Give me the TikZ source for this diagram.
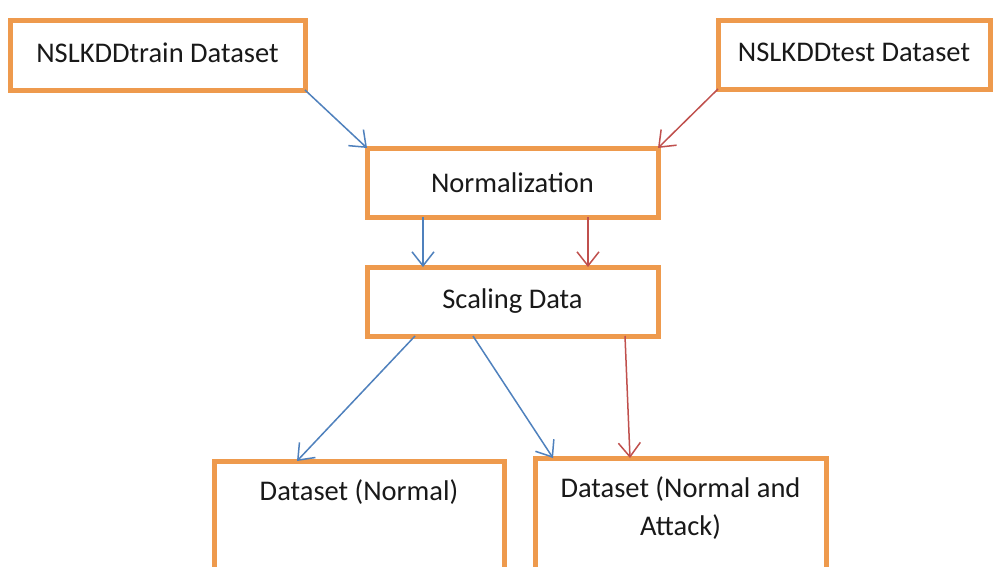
\documentclass[tikz,border=0pt]{standalone}
\usepackage{fontspec}
\setmainfont{Carlito}
\usetikzlibrary{arrows.meta}
\definecolor{boxorange}{HTML}{EE9A4D}
\definecolor{arrblue}{HTML}{4F81BD}
\definecolor{arrred}{HTML}{C0504D}
\begin{document}
\begin{tikzpicture}[x=1pt,y=-1pt,
  box/.style={draw=boxorange,line width=5pt,fill=white,inner sep=0pt,outer sep=0pt,
    font=\fontsize{28.5}{34}\selectfont,text=black!90},
  lbl/.style={inner sep=0pt,font=\fontsize{28.5}{38}\selectfont,text=black!90,align=center},
  bluearr/.style={draw=arrblue,line width=1.5pt,-{Straight Barb[length=14pt,width=22pt,line width=1.5pt]}},
  redarr/.style={draw=arrred,line width=1.5pt,-{Straight Barb[length=14pt,width=22pt,line width=1.5pt]}}]
\useasboundingbox (0,0) rectangle (998,566);
\clip (0,0) rectangle (998,566);
\fill[white] (0,0) rectangle (998,566);
% boxes
\node[box,minimum width=295pt,minimum height=70pt] (train) at (157.5,55) {\raisebox{4pt}{NSLKDDtrain Dataset}};
\node[box,minimum width=272pt,minimum height=69pt] (test) at (854,54.5) {\raisebox{4pt}{NSLKDDtest Dataset}};
\node[box,minimum width=291pt,minimum height=69pt] (norm) at (512.5,182.5) {Normalization};
\node[box,minimum width=291pt,minimum height=69pt] (scal) at (512.5,301.5) {Scaling Data};
\node[box,minimum width=290pt,minimum height=150pt] (dnorm) at (359,536) {};
\node[box,minimum width=291pt,minimum height=150pt] (dna) at (680.5,533) {};
\node[lbl] (tnorm) at (359,492) {Dataset (Normal)};
\node[lbl] (tna) at (680.5,508) {Dataset (Normal and\\Attack)};
% connectors
\draw[bluearr] (train.south east) -- (norm.north west);
\draw[redarr] (test.south west) -- (norm.north east);
\draw[bluearr] ([xshift=56pt]norm.south west) -- ([xshift=56pt]scal.north west);
\draw[redarr] ([xshift=221pt]norm.south west) -- ([xshift=221pt]scal.north west);
\draw[bluearr] ([xshift=48pt]scal.south west) -- ([xshift=83pt]dnorm.north west);
\draw[bluearr] ([xshift=106pt]scal.south west) -- ([xshift=18pt]dna.north west);
\draw[redarr] ([xshift=258pt]scal.south west) -- ([xshift=95pt]dna.north west);
\end{tikzpicture}
\end{document}
